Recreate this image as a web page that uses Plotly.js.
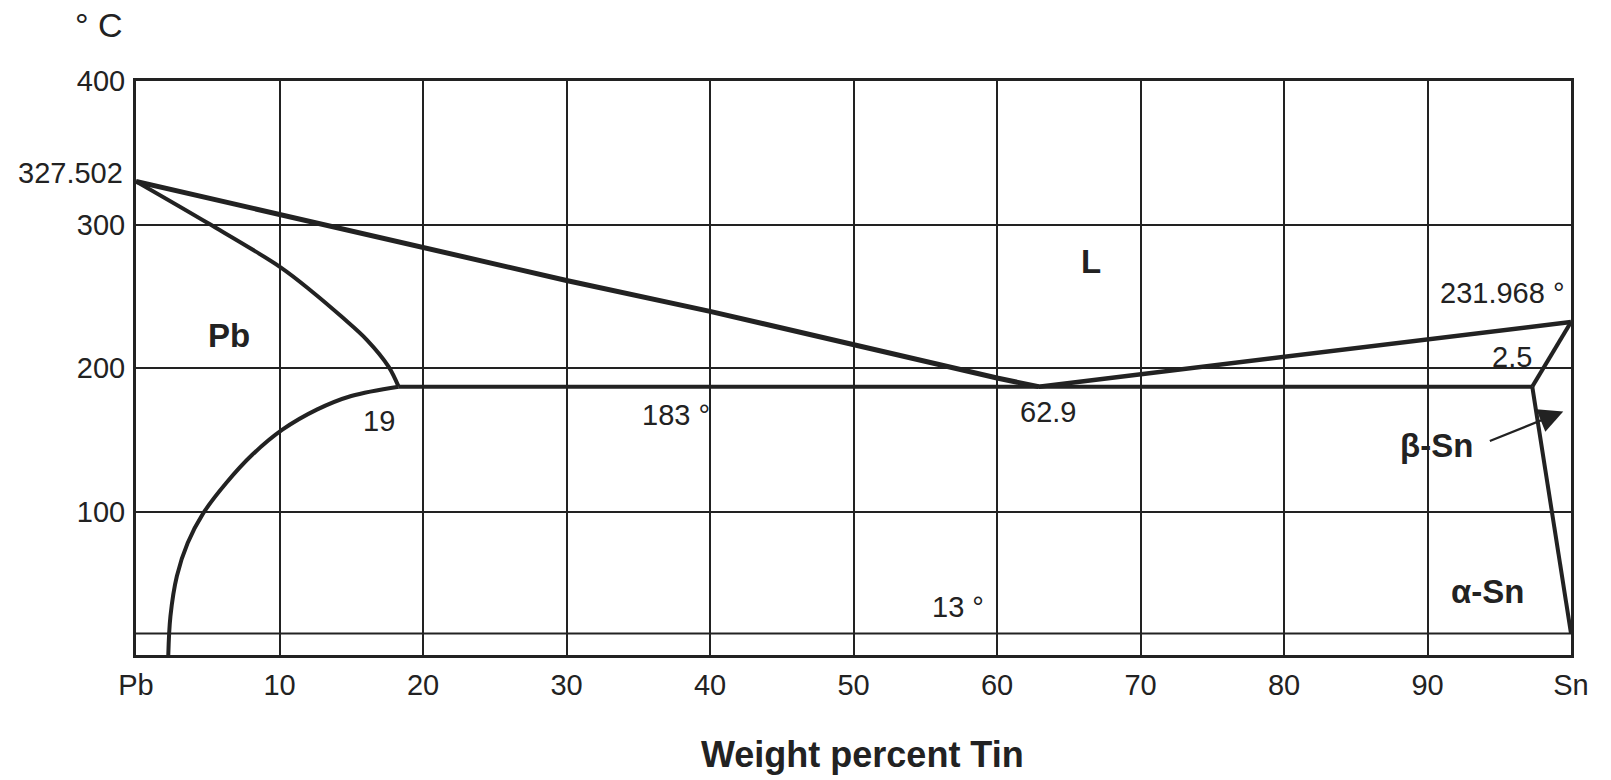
<!DOCTYPE html>
<html>
<head>
<meta charset="utf-8">
<script src="https://cdn.plot.ly/plotly-3.0.1.min.js"></script>
<style>html,body{margin:0;padding:0;background:#fff;}#chart{width:1611px;height:780px;}</style>
</head>
<body>
<div id="chart"></div>
<script>
// Weight percent tin (x) and temperature in °C (y)
const liquidusLeftX = [0, 10, 20, 30, 40, 50, 60, 62.9];
const liquidusLeftY = [330, 307, 284.5, 261, 239.5, 216, 193, 187];
const liquidusRightX = [62.9, 100];
const liquidusRightY = [187, 232];
const solidusPbX = [0, 5, 10.1, 12.3, 14.3, 16.1, 17.6, 18.3];
const solidusPbY = [330, 301, 270, 253, 236, 219.5, 201, 187];
const solvusPbX = [2.25, 2.4, 2.85, 3.6, 4.7, 6.3, 8.1, 10.2, 12.6, 15, 18.3];
const solvusPbY = [0, 27, 55, 78, 99, 120, 139.5, 157, 171, 180.5, 187];
const eutecticX = [18.3, 97.3];
const eutecticY = [187, 187];
const solidusSnX = [97.3, 100];
const solidusSnY = [187, 232];
const solvusSnX = [97.3, 100];
const solvusSnY = [187, 15];
const alphaBetaX = [0, 100];
const alphaBetaY = [15, 15];

const xTickVals = [0, 10, 20, 30, 40, 50, 60, 70, 80, 90, 100];
const xTickText = ['Pb', '10', '20', '30', '40', '50', '60', '70', '80', '90', 'Sn'];
const yTickVals = [100, 200, 300, 400];
const yTickText = ['100', '200', '300', '400'];

const INK = '#222';
const FONT = 'Liberation Sans, Arial, Helvetica, sans-serif';

function curve(x, y, w, spline) {
  return {x: x, y: y, type: 'scatter', mode: 'lines', hoverinfo: 'skip',
    line: {color: INK, width: w, shape: spline ? 'spline' : 'linear', smoothing: 1}, cliponaxis: false};
}

const traces = [
  curve(alphaBetaX, alphaBetaY, 2, false),
  curve(liquidusLeftX, liquidusLeftY, 5, false),
  curve(liquidusRightX, liquidusRightY, 4.5, false),
  curve(solidusPbX, solidusPbY, 4, true),
  curve(solvusPbX, solvusPbY, 4, true),
  curve(eutecticX, eutecticY, 4, false),
  curve(solidusSnX, solidusSnY, 4, false),
  curve(solvusSnX, solvusSnY, 4, false)
];

function label(text, x, y, size, bold, xanchor, paper) {
  return {text: bold ? '<b>' + text + '</b>' : text, x: x, y: y,
    xref: paper ? 'paper' : 'x', yref: paper ? 'paper' : 'y',
    showarrow: false, xanchor: xanchor || 'center', yanchor: 'middle',
    font: {family: FONT, size: size, color: INK}};
}

const annotations = [
  label('\u00b0 C', -0.0261, 1.0967, 34, false, 'center', true),
  label('327.502', -0.0077, 0.8397, 29, false, 'right', true),
  label('Weight percent Tin', 0.506, -0.174, 36, true, 'center', true),
  label('Pb', 6.45, 222.8, 33, true),
  label('L', 66.55, 274.4, 33, true),
  label('19', 16.93, 163, 29, false),
  label('183 \u00b0', 35.12, 167.5, 29, false, 'left'),
  label('62.9', 63.52, 169.2, 29, false),
  label('13 \u00b0', 57.28, 33.4, 29, false),
  label('231.968 \u00b0', 99.65, 252.4, 29, false, 'right'),
  label('2.5', 95.92, 207.5, 29, false),
  label('\u03b2-Sn', 90.66, 146.2, 33, true),
  label('\u03b1-Sn', 94.15, 44.6, 33, true),
  {text: '', x: 99.46, y: 169.7, ax: 94.24, ay: 148.7, axref: 'x', ayref: 'y', xref: 'x', yref: 'y',
   showarrow: true, arrowhead: 2, arrowsize: 2.2, arrowwidth: 2.2, arrowcolor: INK, standoff: 0, startstandoff: 0}
];

const layout = {
  width: 1611, height: 780,
  margin: {l: 136, r: 40, t: 81, b: 125, pad: 0},
  paper_bgcolor: '#ffffff', plot_bgcolor: '#ffffff',
  showlegend: false,
  font: {family: FONT, color: INK},
  xaxis: {range: [0, 100], tickvals: xTickVals, ticktext: xTickText, showgrid: true,
    gridcolor: INK, gridwidth: 2, zeroline: false, showline: true, linecolor: INK, linewidth: 3,
    mirror: true, ticks: '', ticklabelstandoff: 2, tickfont: {family: FONT, size: 29, color: INK}, fixedrange: true},
  yaxis: {range: [0, 400], tickvals: yTickVals, ticktext: yTickText, showgrid: true,
    gridcolor: INK, gridwidth: 2, zeroline: false, showline: true, linecolor: INK, linewidth: 3,
    mirror: true, ticks: '', ticklabelstandoff: 2, tickfont: {family: FONT, size: 29, color: INK}, fixedrange: true},
  annotations: annotations
};

Plotly.newPlot('chart', traces, layout, {displayModeBar: false, staticPlot: true});
</script>
</body>
</html>
